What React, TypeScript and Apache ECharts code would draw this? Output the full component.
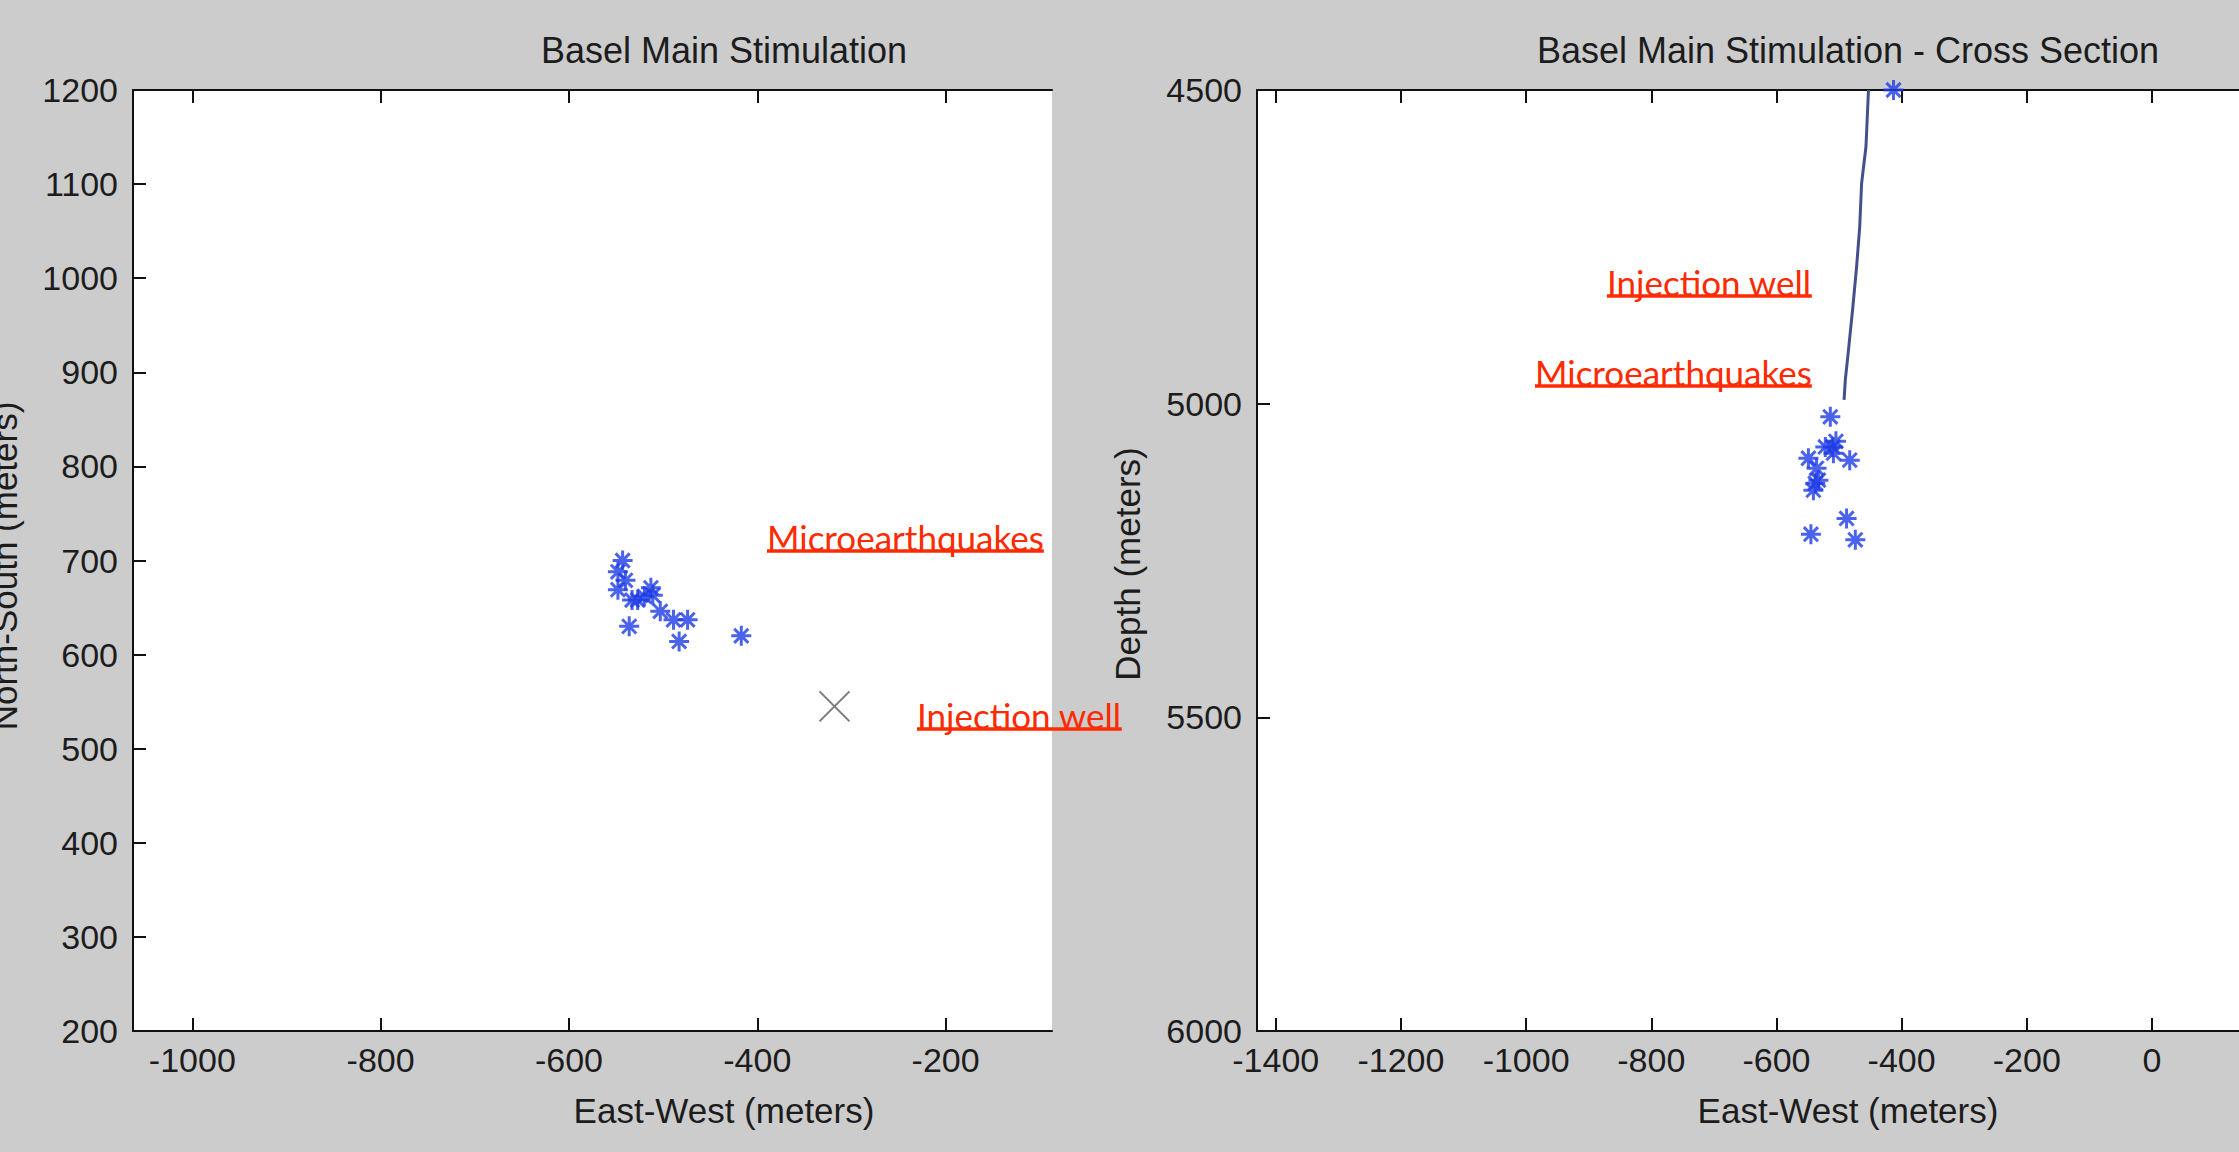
import React, { useEffect, useRef } from "react";
import * as echarts from "echarts";

// ---- Plan view (left) ----
const PLAN_EAST_WEST = [-543, -548, -540, -548, -533, -527, -520, -513, -511, -503, -489, -474, -536, -483, -417];
const PLAN_NORTH_SOUTH = [700, 688, 679, 669, 658, 658, 662, 671, 663, 646, 637, 637, 630, 614, 620];
const INJECTION_WELL_EW = [-318];
const INJECTION_WELL_NS = [545];
const PLAN_X_TICKS = [-1000, -800, -600, -400, -200];

// ---- Cross section (right) ----
const SECTION_EAST_WEST = [-413, -514, -505, -510, -522, -509, -549, -483, -536, -533, -538, -541, -488, -545, -474];
const SECTION_DEPTH = [4500, 5021, 5060, 5069, 5069, 5079, 5087, 5090, 5103, 5122, 5127, 5138, 5183, 5208, 5217];
const WELL_TRACK_EW = [-453, -457, -464, -467, -472, -478, -485, -490, -492];
const WELL_TRACK_DEPTH = [4500, 4590, 4649, 4718, 4782, 4846, 4915, 4962, 4994];
const SECTION_X_TICKS = [-1400, -1200, -1000, -800, -600, -400, -200, 0];

const TITLES = ["Basel Main Stimulation", "Basel Main Stimulation - Cross Section"];
const X_NAME = "East-West (meters)";
const Y_NAMES = ["North-South (meters)", "Depth (meters)"];

const BLUE = "#1e3ce6";
const RED = "#ff2a00";
const INK = "#1c1c1c";
const SANS = '"Liberation Sans", Arial, sans-serif';
const NOTE_FONT = '"Lato", "Open Sans", sans-serif';

const STAR = "path://M0,10L20,10M10,0L10,20M2.93,2.93L17.07,17.07M17.07,2.93L2.93,17.07";
const CROSS = "path://M0,0L20,20M20,0L0,20";

const zip = (a: number[], b: number[]) => a.map((v, i) => [v, b[i]]);

function measure(text: string, font: string) {
  const ctx = document.createElement("canvas").getContext("2d")!;
  ctx.font = font;
  return ctx.measureText(text).width;
}

export default function App() {
  const ref = useRef<HTMLDivElement>(null);
  useEffect(() => {
    document.body.style.margin = "0";
    document.body.style.background = "#cccccc";
    const chart = echarts.init(ref.current!, undefined, { renderer: "svg" });

    const axisLine = { show: true, onZero: false, lineStyle: { color: "#111", width: 2 } };
    const tick = (vals?: number[]) => ({
      show: true,
      inside: true,
      length: 13,
      lineStyle: { color: "#111", width: 2 },
      ...(vals ? { customValues: vals } : {}),
    });
    const label = (margin: number, vals?: number[]) => ({
      show: true,
      margin,
      color: INK,
      fontSize: 34,
      fontFamily: SANS,
      formatter: (v: number) => String(v),
      ...(vals ? { customValues: vals } : {}),
    });

    const noteFontSize = 35;
    const noteFont = `${noteFontSize}px ${NOTE_FONT}`;
    const note = (text: string, left: number, baseline: number) => {
      const w = measure(text, noteFont);
      return [
        {
          type: "text",
          z: 100,
          x: left,
          y: baseline,
          style: {
            text,
            font: noteFont,
            fill: RED,
            align: "left",
            verticalAlign: "bottom",
          },
        },
        {
          type: "line",
          z: 100,
          shape: { x1: left, y1: baseline - 3, x2: left + w, y2: baseline - 3 },
          style: { stroke: RED, lineWidth: 3.5 },
        },
      ];
    };
    const plainText = (text: string, x: number, y: number, size: number, rotation = 0) => ({
      type: "text",
      z: 100,
      x,
      y,
      rotation,
      style: {
        text,
        font: `${size}px ${SANS}`,
        fill: INK,
        align: "center",
        verticalAlign: "middle",
      },
    });

    const option: any = {
      animation: false,
      backgroundColor: "#cccccc",
      grid: [
        { left: 133, top: 90, width: 919, height: 941, show: true, backgroundColor: "#ffffff", borderWidth: 0 },
        { left: 1257, top: 90, width: 982, height: 941, show: true, backgroundColor: "#ffffff", borderWidth: 0 },
      ],
      xAxis: [
        {
          gridIndex: 0, type: "value", position: "bottom", min: -1063, max: -87,
          axisLine, axisTick: tick(PLAN_X_TICKS), axisLabel: label(12, PLAN_X_TICKS), splitLine: { show: false },
        },
        {
          gridIndex: 0, type: "value", position: "top", min: -1063, max: -87,
          axisLine, axisTick: tick(PLAN_X_TICKS), axisLabel: { show: false }, splitLine: { show: false },
        },
        {
          gridIndex: 1, type: "value", position: "bottom", min: -1430, max: 139,
          axisLine, axisTick: tick(SECTION_X_TICKS), axisLabel: label(12, SECTION_X_TICKS), splitLine: { show: false },
        },
        {
          gridIndex: 1, type: "value", position: "top", min: -1430, max: 139,
          axisLine, axisTick: tick(SECTION_X_TICKS), axisLabel: { show: false }, splitLine: { show: false },
        },
      ],
      yAxis: [
        {
          gridIndex: 0, type: "value", position: "left", min: 200, max: 1200, interval: 100,
          axisLine, axisTick: tick(), axisLabel: label(15), splitLine: { show: false },
        },
        {
          gridIndex: 1, type: "value", position: "left", min: 4500, max: 6000, interval: 500, inverse: true,
          axisLine, axisTick: tick(), axisLabel: label(15), splitLine: { show: false },
        },
      ],
      series: [
        {
          type: "scatter", xAxisIndex: 0, yAxisIndex: 0,
          data: zip(PLAN_EAST_WEST, PLAN_NORTH_SOUTH),
          symbol: STAR, symbolSize: 20,
          itemStyle: { color: "rgba(0,0,0,0)", borderColor: BLUE, borderWidth: 3 },
        },
        {
          type: "scatter", xAxisIndex: 0, yAxisIndex: 0,
          data: zip(INJECTION_WELL_EW, INJECTION_WELL_NS),
          symbol: CROSS, symbolSize: 30,
          itemStyle: { color: "rgba(0,0,0,0)", borderColor: "#5a5a5a", borderWidth: 2 },
        },
        {
          type: "line", xAxisIndex: 2, yAxisIndex: 1,
          data: zip(WELL_TRACK_EW, WELL_TRACK_DEPTH),
          showSymbol: false, symbol: "none",
          lineStyle: { color: "#454f8e", width: 3 },
        },
        {
          type: "scatter", xAxisIndex: 2, yAxisIndex: 1, clip: false,
          data: zip(SECTION_EAST_WEST, SECTION_DEPTH),
          symbol: STAR, symbolSize: 20,
          itemStyle: { color: "rgba(0,0,0,0)", borderColor: BLUE, borderWidth: 3 },
        },
      ],
      graphic: [
        plainText(TITLES[0], 724, 50, 36),
        plainText(TITLES[1], 1848, 50, 36),
        plainText(X_NAME, 724, 1110, 35),
        plainText(X_NAME, 1848, 1110, 35),
        plainText(Y_NAMES[0], 4, 566, 35, Math.PI / 2),
        plainText(Y_NAMES[1], 1127, 564, 35, Math.PI / 2),
        ...note("Microearthquakes", 767, 554),
        ...note("Injection well", 917, 732),
        ...note("Injection well", 1607, 299),
        ...note("Microearthquakes", 1535, 389),
      ],
    };
    chart.setOption(option);
    return () => chart.dispose();
  }, []);
  return (
    <div
      ref={ref}
      style={{ position: "fixed", left: 0, top: 0, width: 2239, height: 1152, background: "#cccccc" }}
    />
  );
}
